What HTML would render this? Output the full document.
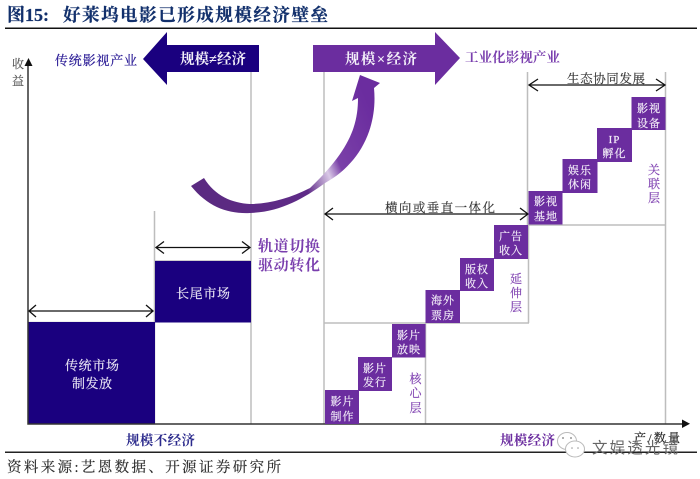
<!DOCTYPE html>
<html><head><meta charset="utf-8">
<style>
html,body{margin:0;padding:0;background:#fff}
svg{display:block;width:700px;height:479px}
text{font-family:"Liberation Serif","Noto Serif CJK SC",serif}
.b text{fill:#f3edf8;font-size:11px;letter-spacing:1px;text-anchor:middle;stroke:#f3edf8;stroke-width:.2}
.v{font-size:12px;fill:#8347b3;text-anchor:middle;stroke:#8347b3;stroke-width:.2}
</style></head><body>
<svg xmlns="http://www.w3.org/2000/svg" width="700" height="479" viewBox="0 0 700 479">
<defs>
<linearGradient id="g" gradientUnits="userSpaceOnUse" x1="191" y1="200" x2="375" y2="120">
<stop offset="0" stop-color="#5a2a80"/><stop offset="0.55" stop-color="#5f2b88"/><stop offset="0.68" stop-color="#d9c8e6"/><stop offset="0.75" stop-color="#7a40a8"/><stop offset="1" stop-color="#6b2d9f"/>
</linearGradient>
</defs>
<rect width="700" height="479" fill="#fff"/>

<text x="7" y="21" font-size="18" font-weight="700" fill="#12306c" stroke="#12306c" stroke-width=".25">图</text>
<text x="25" y="21" font-size="18" font-weight="700" fill="#12306c" stroke="#12306c" stroke-width=".25">15:</text>
<text x="63" y="21" font-size="17.500" font-weight="700" fill="#12306c" stroke="#12306c" stroke-width=".25" textLength="265" lengthAdjust="spacing">好莱坞电影已形成规模经济壁垒</text>
<rect x="5" y="27.500" width="692" height="1.500" fill="#111"/>
<rect x="5" y="451.500" width="692" height="1.500" fill="#222"/>
<text x="7" y="472" font-size="14.500" fill="#2a2a2a" stroke="#2a2a2a" stroke-width=".15" textLength="274" lengthAdjust="spacing">资料来源:艺恩数据、开源证券研究所</text>

<g stroke="#bdbdbd" stroke-width="1.500" fill="none">
<path d="M251 72V424M324 72V424M154.500 211V424M527.500 72V225M665.500 72V424M527.500 225H666M324 323H529M528.500 225V323M425.500 323V424M28 322.500H154M154 261H251"/>
</g>

<rect x="28" y="322" width="127" height="102" fill="#1a007f"/>
<rect x="155" y="261" width="96" height="61.500" fill="#1a007f"/>

<path d="M28 64V424H683" fill="none" stroke="#333" stroke-width="1.500"/>
<path d="M28.500 58L24.500 66H32.500Z M690 423.700L682 419.500V428Z" fill="#111"/>

<path d="M143 59L167 32V45H259V72H167V85Z" fill="#1a007f"/>
<path d="M313 45H435V32L460 58L435 85V72H313Z" fill="#6b2d9f"/>

<path d="M191 186C208 207 228 214 250 213C280 212 303 199 325 183C358 165 378 130 374 88L380 83L360 75L352 101L358 98C358 125 350 150 310 188C290 198 270 204 250 204C232 203 215 196 204 178Z" fill="url(#g)"/>

<g fill="none" stroke="#111" stroke-width="1.300">
<path d="M29 311H153M36 305L29 311L36 317M146 305L153 311L146 317"/>
<path d="M156 247.500H250M164 241.500L156 247.500L164 253.500M242 241.500L250 247.500L242 253.500"/>
<path d="M325 214H528M333 208L325 214L333 220M520 208L528 214L520 220"/>
<path d="M529 85H665M538 79L529 85L538 91M656 79L665 85L656 91"/>
</g>

<g fill="#6b2d9f">
<rect x="325" y="390" width="34" height="34"/>
<rect x="358" y="357" width="34" height="34"/>
<rect x="392" y="324" width="33.500" height="33.500"/>
<rect x="425.500" y="290" width="34.500" height="33"/>
<rect x="460" y="258" width="34" height="33"/>
<rect x="494" y="225" width="34" height="34"/>
<rect x="528.500" y="191" width="34" height="33.500"/>
<rect x="562.500" y="159" width="35" height="34"/>
<rect x="597" y="128" width="35" height="34"/>
<rect x="631.500" y="97" width="34" height="33"/>
</g>
<g class="b">
<text x="342.500" y="405">影片</text><text x="342.500" y="420">制作</text>
<text x="375" y="372">影片</text><text x="375" y="386">发行</text>
<text x="409" y="339">影片</text><text x="409" y="353">放映</text>
<text x="443" y="304">海外</text><text x="443" y="319">票房</text>
<text x="477" y="273">版权</text><text x="477" y="287">收入</text>
<text x="511" y="240">广告</text><text x="511" y="254">收入</text>
<text x="546" y="205">影视</text><text x="546" y="220">基地</text>
<text x="580" y="174">娱乐</text><text x="580" y="188">休闲</text>
<text x="614.500" y="143" font-family="Liberation Sans,sans-serif">IP</text><text x="614.500" y="157">孵化</text>
<text x="649" y="112">影视</text><text x="649" y="127">设备</text>
</g>

<g class="v">
<text x="654" y="174">关</text><text x="654" y="188">联</text><text x="654" y="202">层</text>
<text x="516" y="283">延</text><text x="516" y="297">伸</text><text x="516" y="311">层</text>
<text x="415.500" y="383">核</text><text x="415.500" y="397">心</text><text x="415.500" y="412">层</text>
</g>

<text x="18" y="68" font-size="12" fill="#555" stroke="#555" stroke-width=".15" text-anchor="middle">收</text>
<text x="18" y="85" font-size="12" fill="#555" stroke="#555" stroke-width=".15" text-anchor="middle">益</text>

<text x="55" y="65" font-size="13" fill="#2b1c96" stroke="#2b1c96" stroke-width=".25" textLength="82" lengthAdjust="spacing">传统影视产业</text>
<text x="180" y="64" font-size="14.500" font-weight="700" fill="#f2eef8" textLength="66" lengthAdjust="spacing">规模≠经济</text>
<text x="345" y="64" font-size="14.500" font-weight="700" fill="#f2eef8" textLength="72" lengthAdjust="spacing">规模×经济</text>
<text x="465" y="62" font-size="13.500" font-weight="700" fill="#7a3fae" textLength="95" lengthAdjust="spacing">工业化影视产业</text>
<text x="567" y="83" font-size="12.500" fill="#333" stroke="#333" stroke-width=".15" textLength="78" lengthAdjust="spacing">生态协同发展</text>
<text x="385" y="212" font-size="12.500" fill="#333" stroke="#333" stroke-width=".15" textLength="110" lengthAdjust="spacing">横向或垂直一体化</text>
<text x="258" y="251" font-size="15" font-weight="700" fill="#7a3fae" textLength="62" lengthAdjust="spacing">轨道切换</text>
<text x="258" y="270" font-size="15" font-weight="700" fill="#7a3fae" textLength="62" lengthAdjust="spacing">驱动转化</text>
<text x="176" y="298" font-size="13" fill="#e9e5f4" stroke="#e9e5f4" stroke-width=".2" textLength="54" lengthAdjust="spacing">长尾市场</text>
<text x="65" y="370" font-size="13" fill="#e9e5f4" stroke="#e9e5f4" stroke-width=".2" textLength="54" lengthAdjust="spacing">传统市场</text>
<text x="72" y="388" font-size="13" fill="#e9e5f4" stroke="#e9e5f4" stroke-width=".2" textLength="40" lengthAdjust="spacing">制发放</text>
<text x="126" y="445" font-size="13.500" font-weight="700" fill="#2b2a8c" textLength="69" lengthAdjust="spacing">规模不经济</text>
<text x="500" y="445" font-size="13.500" font-weight="700" fill="#6b2d9f" textLength="55" lengthAdjust="spacing">规模经济</text>
<text x="634" y="442" font-size="12" fill="#222" stroke="#222" stroke-width=".2" textLength="46" lengthAdjust="spacing">产/数量</text>

<g fill="#fff" stroke="#bbb" stroke-width="1">
<ellipse cx="567" cy="441" rx="9.500" ry="8.500"/>
<ellipse cx="575" cy="449" rx="9.500" ry="8"/>
</g>
<g fill="#999"><circle cx="563" cy="438" r="1"/><circle cx="571" cy="438" r="1"/><circle cx="572" cy="448" r="0.800"/><circle cx="578" cy="448" r="0.800"/></g>
<text x="592" y="453" font-size="15.500" fill="#666" textLength="86" lengthAdjust="spacing" style="font-family:'Liberation Sans','Noto Sans CJK SC',sans-serif">文娱透光镜</text>
</svg>
</body></html>
